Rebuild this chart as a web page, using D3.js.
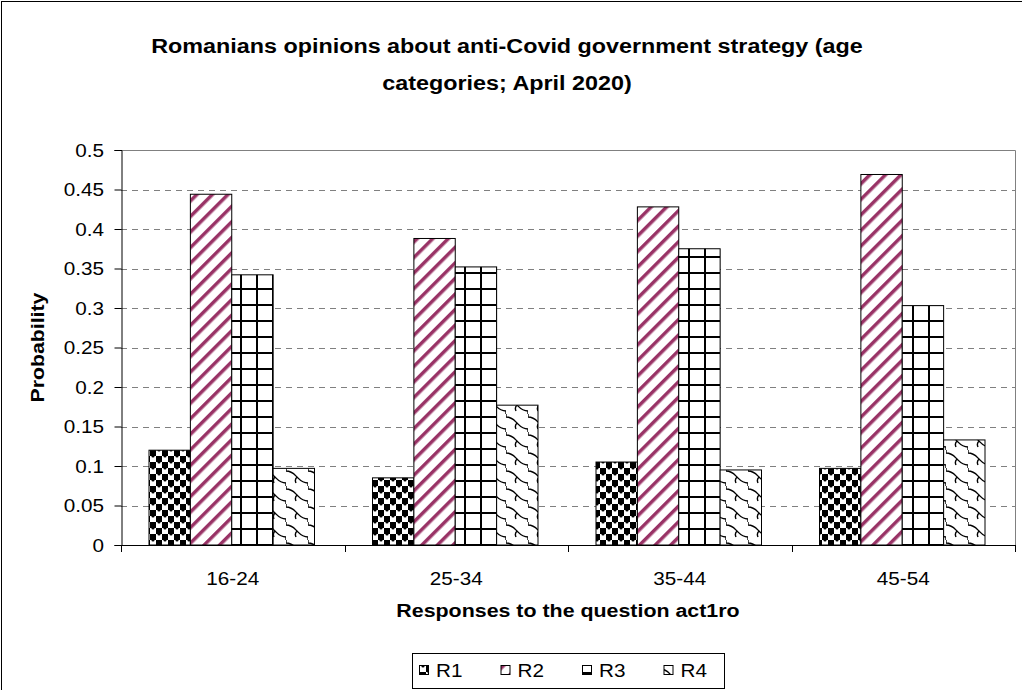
<!DOCTYPE html>
<html>
<head>
<meta charset="utf-8">
<script src="https://cdn.jsdelivr.net/npm/d3@7"></script>
<style>
  body { margin: 0; background: #fff; }
  svg { display: block; font-family: "Liberation Sans", Arial, sans-serif; }
</style>
</head>
<body>
<svg id="chart" width="1022" height="690"></svg>
<script>
// data
var categories = ["16-24", "25-34", "35-44", "45-54"];
var seriesNames = ["R1", "R2", "R3", "R4"];
var r1 = [0.120, 0.085, 0.105, 0.097];
var r2 = [0.444, 0.388, 0.428, 0.469];
var r3 = [0.342, 0.352, 0.375, 0.303];
var r4 = [0.097, 0.177, 0.095, 0.133];
var yTicks = [0, 0.05, 0.1, 0.15, 0.2, 0.25, 0.3, 0.35, 0.4, 0.45, 0.5];

var seriesValues = [r1, r2, r3, r4];

var svg = d3.select("#chart");
var plotL = 121, plotR = 1015, plotT = 150, plotB = 545;
var stretch = 1.15; // the reference text runs a bit wide along its baseline

// outer chart border (right/bottom run off the canvas)
svg.append("rect")
  .attr("x", 1.5).attr("y", 1.5)
  .attr("width", 1040).attr("height", 720)
  .attr("fill", "#fff").attr("stroke", "#000").attr("stroke-width", 1);

// patterns
var defs = svg.append("defs");

var p1 = defs.append("pattern").attr("id", "pat1")
  .attr("patternUnits", "userSpaceOnUse").attr("width", 12).attr("height", 12);
p1.append("rect").attr("width", 12).attr("height", 12).attr("fill", "#fff");
p1.append("rect").attr("x", 0).attr("y", 0).attr("width", 6).attr("height", 6).attr("fill", "#000");
p1.append("rect").attr("x", 6).attr("y", 6).attr("width", 6).attr("height", 6).attr("fill", "#000");
p1.append("circle").attr("cx", 3).attr("cy", 6).attr("r", 1.6).attr("fill", "#000");
p1.append("circle").attr("cx", 9).attr("cy", 0).attr("r", 1.6).attr("fill", "#000");
p1.append("circle").attr("cx", 9).attr("cy", 12).attr("r", 1.6).attr("fill", "#000");

var p2 = defs.append("pattern").attr("id", "pat2")
  .attr("patternUnits", "userSpaceOnUse").attr("width", 11).attr("height", 11)
  .attr("patternTransform", "rotate(45)");
p2.append("rect").attr("width", 11).attr("height", 11).attr("fill", "#fff");
p2.append("rect").attr("x", 0).attr("width", 3.5).attr("height", 11).attr("fill", "#993366");

var p3 = defs.append("pattern").attr("id", "pat3")
  .attr("patternUnits", "userSpaceOnUse").attr("width", 16).attr("height", 16);
p3.append("rect").attr("width", 16).attr("height", 16).attr("fill", "#fff");
p3.append("rect").attr("x", 0).attr("y", 0).attr("width", 2).attr("height", 16).attr("fill", "#000");
p3.append("rect").attr("x", 0).attr("y", 0).attr("width", 16).attr("height", 2).attr("fill", "#000");

// shingle: wavy staircase lines running down to the right
var p4 = defs.append("pattern").attr("id", "pat4")
  .attr("patternUnits", "userSpaceOnUse").attr("width", 22).attr("height", 18);
p4.append("rect").attr("width", 22).attr("height", 18).attr("fill", "#fff");
p4.append("path")
  .attr("d", "M0,3 C6,3 8,6 11,9 C14,12 16,15 22,15 M22,15 L22,18 M0,0 L0,3 M11,9 C9,11 9,13 10,15")
  .attr("fill", "none").attr("stroke", "#000").attr("stroke-width", 1.4);

var fills = ["url(#pat1)", "url(#pat2)", "url(#pat3)", "url(#pat4)"];

// scales
var x = d3.scaleBand().domain(categories).range([plotL, plotR]);
var xs = d3.scaleBand().domain(seriesNames).range([28, x.bandwidth() - 30]);
var y = d3.scaleLinear().domain([0, 0.5]).range([plotB, plotT]);

// helper for wide text
function wideText(parent, tx, ty, str, size, weight, anchor, rot) {
  return parent.append("text")
    .attr("transform", "translate(" + tx + "," + ty + ")" + (rot ? " rotate(" + rot + ")" : "") + " scale(" + stretch + ",1)")
    .attr("text-anchor", anchor || "middle")
    .attr("font-size", size)
    .attr("font-weight", weight || "normal")
    .attr("fill", "#000")
    .text(str);
}

// gridlines
svg.append("g").selectAll("line")
  .data(yTicks.filter(function(d) { return d > 0 && d < 0.5; }))
  .join("line")
  .attr("x1", plotL).attr("x2", plotR)
  .attr("y1", function(d) { return Math.round(y(d)) + 0.5; })
  .attr("y2", function(d) { return Math.round(y(d)) + 0.5; })
  .attr("stroke", "#808080").attr("stroke-dasharray", "6,5");

// plot border (top and right, grey)
svg.append("path")
  .attr("d", "M" + plotL + "," + (plotT + 0.5) + "H" + (plotR + 0.5) + "V" + plotB)
  .attr("fill", "none").attr("stroke", "#808080");

// bars
seriesNames.forEach(function(s, si) {
  svg.append("g").selectAll("rect")
    .data(seriesValues[si])
    .join("rect")
    .attr("x", function(d, i) { return x(categories[i]) + xs(s); })
    .attr("y", function(d) { return y(d); })
    .attr("width", xs.bandwidth())
    .attr("height", function(d) { return plotB - y(d); })
    .attr("fill", fills[si])
    .attr("stroke", "#000").attr("stroke-width", 1);
});

// y axis
var yAxis = d3.axisLeft(y).tickValues(yTicks).tickSize(7).tickFormat("");
var gy = svg.append("g").attr("transform", "translate(" + (plotL + 0.5) + ",0)").call(yAxis);
gy.select(".domain").attr("stroke", "#000");
gy.selectAll("line").attr("stroke", "#000");
var yLab = svg.append("g");
yTicks.forEach(function(t) {
  wideText(yLab, 104, y(t) + 6.5, String(+t.toFixed(2)), 18, "normal", "end");
});

// x axis: ticks on category boundaries
svg.append("line")
  .attr("x1", plotL).attr("x2", plotR + 1)
  .attr("y1", plotB + 0.5).attr("y2", plotB + 0.5)
  .attr("stroke", "#000");
var bounds = categories.map(function(c) { return x(c); }).concat([plotR]);
svg.append("g").selectAll("line")
  .data(bounds)
  .join("line")
  .attr("x1", function(d) { return Math.round(d) + 0.5; })
  .attr("x2", function(d) { return Math.round(d) + 0.5; })
  .attr("y1", plotB).attr("y2", plotB + 7)
  .attr("stroke", "#000");
var xLab = svg.append("g");
categories.forEach(function(c) {
  wideText(xLab, x(c) + x.bandwidth() / 2, 585, c, 18, "normal", "middle");
});

// titles
wideText(svg, 507, 53, "Romanians opinions about anti-Covid government strategy (age", 20.3, "bold");
wideText(svg, 507, 90, "categories; April 2020)", 20.3, "bold");
wideText(svg, (plotL + plotR) / 2, 617, "Responses to the question act1ro", 18.6, "bold");
wideText(svg, 44, (plotT + plotB) / 2, "Probability", 18.5, "bold", "middle", -90);

// legend
var legend = svg.append("g");
legend.append("rect")
  .attr("x", 412.5).attr("y", 653.5).attr("width", 312).attr("height", 35)
  .attr("fill", "#fff").attr("stroke", "#000");
seriesNames.forEach(function(s, i) {
  var lx = 419 + i * 81.5;
  legend.append("rect")
    .attr("x", lx + 0.5).attr("y", 665.5).attr("width", 9).attr("height", 9)
    .attr("fill", fills[i])
    .attr("stroke", "#000");
  wideText(legend, lx + 17, 677, s, 18, "normal", "start");
});
</script>
</body>
</html>
